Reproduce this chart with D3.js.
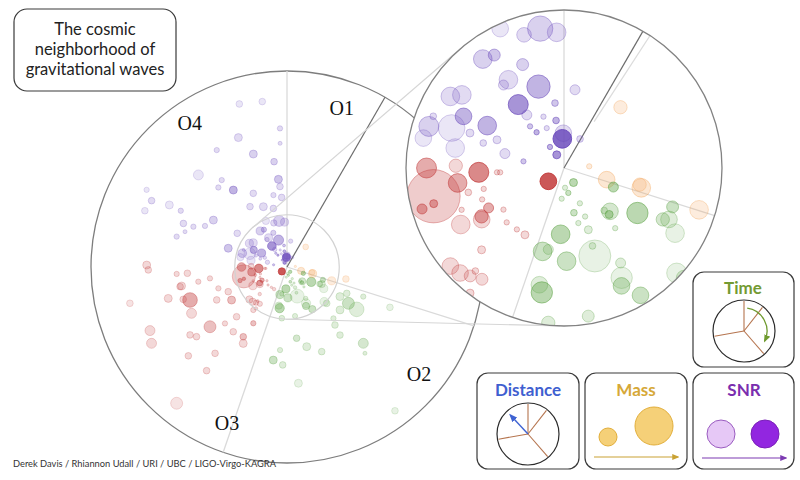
<!DOCTYPE html>
<html>
<head>
<meta charset="utf-8">
<script src="https://d3js.org/d3.v7.min.js"></script>
<style>
body { margin: 0; background: #fff; }
text { font-family: Lato, "Open Sans", sans-serif; }
.run { font-family: "Liberation Serif", "DejaVu Serif", serif; font-size: 20px; fill: #111; }
.box { fill: #fff; stroke: #3a3a3a; stroke-width: 1.2px; }
.ltitle { font-weight: bold; font-size: 17px; text-anchor: middle; }
</style>
</head>
<body>
<div id="chart"></div>
<script>
// each event: [time as clock angle (deg), distance (Gpc), mass (Msun), snr]
var orangeEvents = [
  [42.9, 1.05, 13.1, 10], [86.2, 0.32, 2.1, 10], [105.3, 0.56, 20.5, 12],
  [104.4, 1.01, 25.7, 12], [102.4, 0.98, 13.1, 10], [107.2, 1.79, 25.7, 10],
  [101.5, 2.30, 17.4, 10]
];
var greenEvents = [
  [146.9, 0.22, 4.7, 18], [170.2, 0.32, 2.1, 14], [177, 0.25, 2, 10], [184.3, 0.39, 2, 10],
  [155.8, 0.49, 2.1, 10], [167.5, 0.58, 3.3, 14], [156.5, 0.67, 2.1, 10], [165.4, 0.72, 2.1, 10],
  [158.5, 0.84, 4.7, 10], [111.1, 0.67, 7.4, 18], [133.3, 0.80, 20.5, 12], [135.8, 0.82, 4.7, 18],
  [136.6, 0.74, 3.3, 10], [121.5, 1.09, 33.6, 18], [139.6, 1.0, 2.1, 10], [117.5, 1.41, 13.1, 12],
  [116.1, 1.48, 20.5, 10], [109.7, 1.46, 10.6, 14], [120.4, 1.63, 25.7, 8], [182.9, 0.84, 25.7, 18],
  [194.4, 1.09, 25.7, 14], [190.9, 1.05, 7.4, 10], [178.4, 1.18, 25.7, 14], [160.7, 1.18, 75.6, 8],
  [159.9, 1.05, 3.3, 10], [149.2, 1.40, 7.4, 10], [152.3, 1.57, 33.6, 8], [154, 1.66, 20.5, 14],
  [149, 1.88, 20.5, 14], [133, 1.95, 29.5, 8], [190.1, 1.60, 33.6, 18], [191.9, 1.51, 20.5, 10],
  [170.7, 1.90, 10.6, 10], [185.8, 1.97, 13.1, 10],
  [119.2, 2.32, 25, 10], [120.6, 2.73, 56, 14], [121.3, 3.12, 84, 10], [129, 2.61, 25, 10],
  [111.4, 4.23, 17.4, 8], [113.8, 2.50, 17.4, 10], [111.2, 3.13, 11.1, 10], [132.5, 2.06, 17.4, 10],
  [140.4, 2.88, 17.4, 10], [142.1, 3.30, 17.4, 10], [172.3, 2.75, 17.4, 12], [166.1, 3.14, 25, 10],
  [157.7, 3.50, 17.4, 10], [135, 4.13, 39, 12], [137.9, 4.45, 6.3, 10], [184.8, 3.19, 11.1, 10],
  [188.4, 3.60, 25, 14], [182.5, 3.75, 17.4, 10], [174.4, 4.47, 25, 8], [143.1, 6.88, 17.4, 8],
  [137.9, 2.65, 11.1, 10]
];
var redEvents = [
  [257.8, 1.69, 210, 12], [270, 1.74, 29.5, 18], [253.9, 1.87, 7.4, 18], [254.7, 1.71, 4.7, 18],
  [262, 1.36, 25.7, 18], [271.2, 1.37, 13.1, 10], [267.1, 1.08, 29.5, 25], [266.3, 0.85, 2.1, 10],
  [266.1, 0.81, 2.1, 10], [255.7, 1.25, 3.3, 10], [255.4, 1.05, 2.1, 10], [249, 1.11, 2.1, 10],
  [242.1, 1.08, 7.4, 18], [239.6, 1.21, 13.1, 18], [237.9, 1.23, 20.5, 10], [241.3, 1.49, 25.7, 10],
  [247.8, 1.40, 2.1, 10], [235.5, 0.93, 2.1, 10], [226.5, 1.0, 2.1, 10], [217.5, 0.98, 2.1, 10],
  [210.3, 0.98, 4.7, 10], [229.6, 0.26, 20.5, 35], [225.2, 1.47, 4.7, 10], [229.2, 1.90, 20.5, 10],
  [224.7, 1.87, 20.5, 10], [221, 1.81, 10.6, 10], [216.4, 1.75, 10.6, 10], [216.9, 1.98, 4.7, 10],
  [220.7, 1.72, 3.3, 10],
  [270.8, 5.37, 25, 10], [268.8, 5.31, 17.4, 10], [266.4, 4.23, 11.1, 10], [266.4, 3.82, 17.4, 10],
  [259.8, 4.10, 25, 10], [260.6, 3.44, 11.1, 10], [261.6, 2.98, 11.1, 10], [251.2, 3.92, 84, 18],
  [252.7, 4.16, 17.4, 10], [255.2, 4.70, 25, 10], [257, 6.17, 17.4, 8], [244.1, 4.06, 39, 10],
  [252.7, 2.75, 11.1, 10], [244.9, 2.97, 17.4, 10], [239.2, 2.47, 25, 14], [247.2, 2.44, 17.4, 10],
  [232.2, 3.73, 56, 14], [227.7, 3.21, 11.1, 10], [225.4, 2.71, 17.4, 10], [210.9, 2.51, 11.1, 14],
  [212.1, 3.15, 17.4, 14], [209.8, 3.37, 25, 10], [219.7, 3.22, 17.4, 10], [245.1, 5.78, 39, 10],
  [240.6, 5.95, 39, 10], [235, 4.53, 17.4, 10], [232.4, 4.37, 17.4, 10], [228, 5.08, 17.4, 10],
  [217.8, 5.02, 17.4, 10], [219.8, 4.30, 17.4, 10], [219, 6.71, 56, 8], [259.6, 4.16, 17.4, 10],
  [218.1, 2.09, 11.1, 10]
];
var purpleEvents = [
  [335.4, 1.94, 20.5, 8], [350.3, 1.79, 47.4, 12], [356.9, 1.72, 25.7, 10], [343.3, 1.76, 15.9, 10],
  [323.3, 1.72, 25.7, 12], [328.3, 1.68, 10.6, 14], [338.2, 1.41, 10.6, 12], [342.6, 1.08, 40.2, 18],
  [327.8, 1.32, 25.7, 10], [323.9, 1.30, 7.4, 10], [302.2, 1.70, 25.7, 10], [305.6, 1.59, 25.7, 10],
  [324.2, 0.99, 29.5, 25], [325, 0.82, 7.4, 10], [8.0, 1.0, 7.4, 10], [352.1, 0.83, 3.3, 14],
  [297.2, 1.43, 20.5, 18], [287.1, 1.79, 29.5, 12], [289.6, 1.51, 52.5, 8], [298.9, 1.11, 25.7, 18],
  [282.0, 1.82, 20.5, 8], [280.4, 1.40, 25.7, 8], [290.4, 1.27, 4.7, 10], [292.8, 0.92, 4.7, 10],
  [320.8, 0.68, 2.1, 14], [322.5, 0.57, 2.1, 18], [338.2, 0.70, 2.1, 10], [336.6, 0.55, 2, 10],
  [350.5, 0.61, 3.3, 18], [358.9, 0.44, 20.5, 10], [356.7, 0.37, 25.7, 35], [326.3, 0.32, 2.1, 18],
  [331.2, 0.19, 4.7, 25], [283.7, 0.77, 7.4, 10], [28.9, 0.42, 3.3, 10], [279.3, 0.52, 2, 14],
  [287.2, 1.07, 3.3, 10], [291.6, 1.78, 3.3, 10],
  [343.7, 6.50, 17.4, 8], [351.5, 6.40, 17.4, 8], [357.1, 5.31, 11.1, 10], [339.4, 5.29, 25, 10],
  [356.8, 4.74, 6.3, 10], [329, 5.22, 11.1, 10], [343.4, 4.51, 25, 12], [353, 4.06, 17.4, 12],
  [316.1, 4.89, 39, 8], [323.1, 4.16, 11.1, 10], [319.2, 4.02, 11.1, 10], [325.1, 3.59, 25, 18],
  [354.4, 3.37, 25, 14], [355, 3.09, 17.4, 10], [335.4, 3.10, 17.4, 10], [349.3, 2.80, 11.1, 10],
  [355.6, 2.67, 17.4, 10], [298.8, 6.13, 11.1, 8], [296.1, 5.77, 17.4, 10], [297.8, 5.09, 25, 8],
  [291.6, 5.85, 17.4, 8], [297.9, 4.60, 11.1, 10], [328.5, 2.71, 17.4, 10], [338.6, 2.48, 25, 10],
  [346.9, 2.30, 17.4, 10], [302.5, 3.34, 25, 12], [292.8, 4.30, 17.4, 10], [293.3, 3.90, 11.1, 10],
  [296.6, 3.51, 11.1, 10], [285.4, 4.38, 11.1, 10], [287.7, 2.36, 25, 14], [304.1, 2.30, 17.4, 10],
  [289.1, 4.13, 6.3, 10]
];

var runLabels = ["O1", "O2", "O3", "O4"];
var runLabelAngles = [19, 129, 201, 326];
var runLabelDist = [6.43, 6.5, 6.4, 6.65];
var lightBoundaries = [0, 107.5, 199];
var darkBoundary = 30;
var titleLines = ["The cosmic", "neighborhood of", "gravitational waves"];

var width = 800, height = 480;
var cx = 287, cy = 267, R = 196;      // main disc
var zx = 564, zy = 168, zR = 158;     // zoomed disc
var maxDist = 7.5, zoomDist = 2;

var svg = d3.select("#chart").append("svg")
  .attr("width", width)
  .attr("height", height);

var angle = d3.scaleLinear().domain([0, 360]).range([0, 2 * Math.PI]);
var rMain = d3.scaleLinear().domain([0, maxDist]).range([0, R]);
var rZoom = d3.scaleLinear().domain([0, zoomDist]).range([0, zR]);
var size = d3.scaleSqrt().domain([0, 100]).range([0, 8]);
var alpha = d3.scaleLinear().domain([8, 14, 25, 35]).range([0.14, 0.32, 0.6, 0.85]).clamp(true);
var zoomSize = 2.3;

var groups = [
  { data: orangeEvents, color: "#f4a255" },
  { data: greenEvents, color: "#5ea447" },
  { data: redEvents, color: "#c23a3a" },
  { data: purpleEvents, color: "#6d4dbd" }
];
var events = [];
groups.forEach(function(g) {
  g.data.forEach(function(e) {
    events.push({ t: e[0], d: e[1], m: e[2], snr: e[3], color: g.color });
  });
});
events.sort(function(a, b) { return b.m - a.m; });

function px(x0, r, t) { return x0 + r * Math.sin(angle(t)); }
function py(y0, r, t) { return y0 - r * Math.cos(angle(t)); }

var defs = svg.append("defs");
defs.append("clipPath").attr("id", "zclip")
  .append("circle").attr("cx", zx).attr("cy", zy).attr("r", zR);

function marker(id, color) {
  defs.append("marker").attr("id", id)
    .attr("viewBox", "0 0 10 10").attr("refX", 8).attr("refY", 5)
    .attr("markerWidth", 6).attr("markerHeight", 6).attr("orient", "auto")
    .append("path").attr("d", "M0,1 L10,5 L0,9 z").attr("fill", color);
}
marker("mGreen", "#6f9a2f");
marker("mBlue", "#3f63d2");
marker("mGold", "#c9a234");
marker("mPurple", "#7d3bb2");

// main disc
svg.append("circle").attr("cx", cx).attr("cy", cy).attr("r", R)
  .attr("fill", "#fff").attr("stroke", "#7d7d7d").attr("stroke-width", 1.3);

var mainLines = svg.append("g");
lightBoundaries.forEach(function(t) {
  mainLines.append("line")
    .attr("x1", cx).attr("y1", cy)
    .attr("x2", px(cx, R, t)).attr("y2", py(cy, R, t))
    .attr("stroke", "#dadada").attr("stroke-width", 1.3);
});
mainLines.append("line")
  .attr("x1", cx).attr("y1", cy)
  .attr("x2", px(cx, R, darkBoundary)).attr("y2", py(cy, R, darkBoundary))
  .attr("stroke", "#6c6c6c").attr("stroke-width", 1.2);

svg.append("g").selectAll("circle")
  .data(events)
  .enter().append("circle")
  .attr("cx", function(d) { return px(cx, rMain(d.d), d.t); })
  .attr("cy", function(d) { return py(cy, rMain(d.d), d.t); })
  .attr("r", function(d) { return size(d.m); })
  .attr("fill", function(d) { return d.color; })
  .attr("fill-opacity", function(d) { return alpha(d.snr); })
  .attr("stroke", function(d) { return d.color; })
  .attr("stroke-opacity", function(d) { return Math.min(1, alpha(d.snr) + 0.12); })
  .attr("stroke-width", 0.7);

// inner ring that is blown up
var rIn = rMain(zoomDist);
svg.append("circle").attr("cx", cx).attr("cy", cy).attr("r", rIn)
  .attr("fill", "none").attr("stroke", "#d2d2d2").attr("stroke-width", 1.2);

// outer tangents between the two rings
(function() {
  var ex = (zR * cx - rIn * zx) / (zR - rIn), ey = (zR * cy - rIn * zy) / (zR - rIn);
  var dA = Math.hypot(cx - ex, cy - ey), dB = Math.hypot(zx - ex, zy - ey);
  var base = Math.atan2(cy - ey, cx - ex), half = Math.asin(rIn / dA);
  [base - half, base + half].forEach(function(a) {
    var lA = Math.sqrt(dA * dA - rIn * rIn), lB = Math.sqrt(dB * dB - zR * zR);
    svg.append("line")
      .attr("x1", ex + lA * Math.cos(a)).attr("y1", ey + lA * Math.sin(a))
      .attr("x2", ex + lB * Math.cos(a)).attr("y2", ey + lB * Math.sin(a))
      .attr("stroke", "#d6d6d6").attr("stroke-width", 1.2);
  });
})();

// zoomed disc
svg.append("circle").attr("cx", zx).attr("cy", zy).attr("r", zR).attr("fill", "#fff");
var zg = svg.append("g").attr("clip-path", "url(#zclip)");
lightBoundaries.forEach(function(t) {
  zg.append("line")
    .attr("x1", zx).attr("y1", zy)
    .attr("x2", px(zx, zR, t)).attr("y2", py(zy, zR, t))
    .attr("stroke", "#dadada").attr("stroke-width", 1.3);
});
zg.append("line")
  .attr("x1", px(zx, zR * 0.35, 33)).attr("y1", py(zy, zR * 0.35, 33))
  .attr("x2", px(zx, zR, 33)).attr("y2", py(zy, zR, 33))
  .attr("stroke", "#dcdcdc").attr("stroke-width", 1.3);
zg.append("line")
  .attr("x1", zx).attr("y1", zy)
  .attr("x2", px(zx, zR, darkBoundary)).attr("y2", py(zy, zR, darkBoundary))
  .attr("stroke", "#6c6c6c").attr("stroke-width", 1.2);

zg.selectAll("circle.ev")
  .data(events.filter(function(d) { return d.d <= zoomDist + 0.1; }))
  .enter().append("circle")
  .attr("class", "ev")
  .attr("cx", function(d) { return px(zx, rZoom(d.d), d.t); })
  .attr("cy", function(d) { return py(zy, rZoom(d.d), d.t); })
  .attr("r", function(d) { return size(d.m) * zoomSize; })
  .attr("fill", function(d) { return d.color; })
  .attr("fill-opacity", function(d) { return alpha(d.snr); })
  .attr("stroke", function(d) { return d.color; })
  .attr("stroke-opacity", function(d) { return Math.min(1, alpha(d.snr) + 0.12); })
  .attr("stroke-width", 1);

svg.append("circle").attr("cx", zx).attr("cy", zy).attr("r", zR)
  .attr("fill", "none").attr("stroke", "#828282").attr("stroke-width", 1.3);

// run labels
svg.append("g").selectAll("text")
  .data(runLabels)
  .enter().append("text")
  .attr("class", "run")
  .attr("x", function(d, i) { return px(cx, rMain(runLabelDist[i]), runLabelAngles[i]); })
  .attr("y", function(d, i) { return py(cy, rMain(runLabelDist[i]), runLabelAngles[i]); })
  .attr("text-anchor", "middle")
  .attr("dy", "0.35em")
  .text(function(d) { return d; });

// title
svg.append("rect").attr("class", "box").attr("x", 14).attr("y", 9)
  .attr("width", 162).attr("height", 82).attr("rx", 13);
svg.append("g").selectAll("text")
  .data(titleLines)
  .enter().append("text")
  .attr("text-anchor", "middle")
  .attr("font-size", 16.5).attr("fill", "#222")
  .attr("x", 95)
  .attr("y", function(d, i) { return 35 + i * 20; })
  .text(function(d) { return d; });

svg.append("text").attr("x", 13).attr("y", 467)
  .attr("font-size", 9.3).attr("fill", "#333")
  .text("Derek Davis / Rhiannon Udall / URI / UBC / LIGO-Virgo-KAGRA");

// legend panels
function clockDial(x0, y0) {
  svg.append("circle").attr("cx", x0).attr("cy", y0).attr("r", 31)
    .attr("fill", "#fff").attr("stroke", "#2a2a2a").attr("stroke-width", 1.2);
  [0, 38, 139, 260].forEach(function(t) {
    svg.append("line").attr("x1", x0).attr("y1", y0)
      .attr("x2", px(x0, 30, t)).attr("y2", py(y0, 30, t))
      .attr("stroke", "#b5744e").attr("stroke-width", 1.1);
  });
}

svg.append("rect").attr("class", "box").attr("x", 693).attr("y", 272).attr("width", 101).attr("height", 95).attr("rx", 11);
svg.append("text").attr("class", "ltitle").attr("x", 743).attr("y", 294).attr("fill", "#739a32").text("Time");
clockDial(744, 331);
var arc = d3.path();
arc.arc(744, 331, 23, angle(8) - Math.PI / 2, angle(116) - Math.PI / 2);
svg.append("path").attr("d", arc.toString()).attr("fill", "none")
  .attr("stroke", "#6f9a2f").attr("stroke-width", 1.3).attr("marker-end", "url(#mGreen)");

svg.append("rect").attr("class", "box").attr("x", 477).attr("y", 373).attr("width", 102).attr("height", 96).attr("rx", 11);
svg.append("text").attr("class", "ltitle").attr("x", 528).attr("y", 396).attr("fill", "#3f5fd0").text("Distance");
clockDial(528, 434);
svg.append("line").attr("x1", 528).attr("y1", 434)
  .attr("x2", px(528, 26, 317)).attr("y2", py(434, 26, 317))
  .attr("stroke", "#3f63d2").attr("stroke-width", 1.4).attr("marker-end", "url(#mBlue)");

svg.append("rect").attr("class", "box").attr("x", 585).attr("y", 373).attr("width", 102).attr("height", 96).attr("rx", 11);
svg.append("text").attr("class", "ltitle").attr("x", 636).attr("y", 396).attr("fill", "#d6a838").text("Mass");
svg.append("circle").attr("cx", 608).attr("cy", 437).attr("r", 9)
  .attr("fill", "#f5d078").attr("stroke", "#e2ae3a").attr("stroke-width", 1);
svg.append("circle").attr("cx", 654).attr("cy", 426).attr("r", 19)
  .attr("fill", "#f5d078").attr("stroke", "#e2ae3a").attr("stroke-width", 1);
svg.append("line").attr("x1", 594).attr("y1", 457).attr("x2", 678).attr("y2", 457)
  .attr("stroke", "#c9a234").attr("stroke-width", 1.2).attr("marker-end", "url(#mGold)");

svg.append("rect").attr("class", "box").attr("x", 693).attr("y", 373).attr("width", 101).attr("height", 96).attr("rx", 11);
svg.append("text").attr("class", "ltitle").attr("x", 744).attr("y", 396).attr("fill", "#7a2eae").text("SNR");
svg.append("circle").attr("cx", 721).attr("cy", 434).attr("r", 14)
  .attr("fill", "#e6c8f6").attr("stroke", "#9a5cc0").attr("stroke-width", 1);
svg.append("circle").attr("cx", 765).attr("cy", 434).attr("r", 14)
  .attr("fill", "#9226e0").attr("stroke", "#7a20b8").attr("stroke-width", 1);
svg.append("line").attr("x1", 702).attr("y1", 458).attr("x2", 786).attr("y2", 458)
  .attr("stroke", "#7d3bb2").attr("stroke-width", 1.2).attr("marker-end", "url(#mPurple)");
</script>
</body>
</html>
